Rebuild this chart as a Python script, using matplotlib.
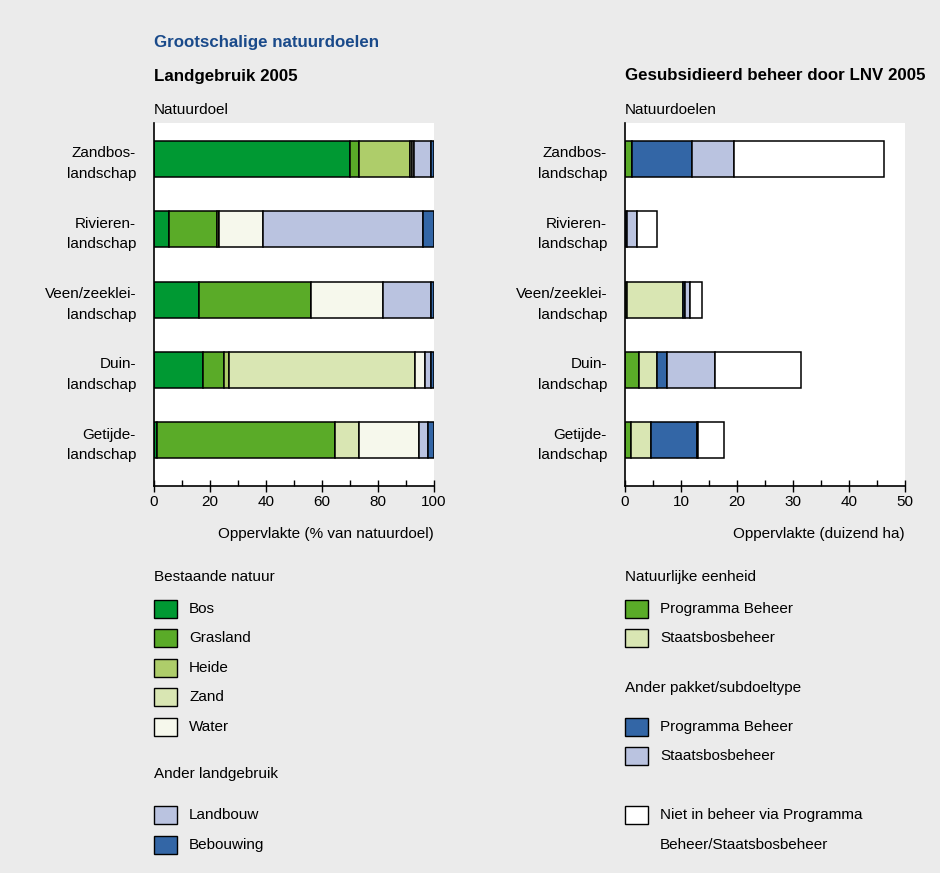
import matplotlib
matplotlib.use("Agg")
import matplotlib.pyplot as plt
from matplotlib.patches import Rectangle
from matplotlib.ticker import MultipleLocator
import numpy as np

plt.rcParams['font.family'] = ['Liberation Sans', 'DejaVu Sans']

# Natuurdoelen (top to bottom)
categories = ["Zandbos-\nlandschap", "Rivieren-\nlandschap", "Veen/zeeklei-\nlandschap",
              "Duin-\nlandschap", "Getijde-\nlandschap"]

# Landgebruik 2005 (% van natuurdoel)
bos = [70.0, 5.2, 15.9, 17.6, 1.0]
grasland = [3.1, 17.2, 40.3, 7.4, 63.5]
heide = [18.3, 0.7, 0.0, 1.9, 0.0]
zand = [0.7, 0.0, 0.0, 66.2, 8.8]
water = [0.8, 15.9, 25.7, 3.6, 21.5]
landbouw = [5.9, 57.0, 16.9, 2.3, 3.1]
bebouwing = [1.2, 4.0, 1.2, 1.0, 2.1]

# Gesubsidieerd beheer door LNV 2005 (duizend ha)
natuur_pb = [1.2, 0.0, 0.3, 2.55, 1.0]
natuur_sbb = [0.0, 0.0, 10.1, 3.2, 3.7]
ander_pb = [10.8, 0.4, 0.4, 1.8, 8.1]
ander_sbb = [7.5, 1.7, 0.8, 8.6, 0.2]
niet_beheer = [26.8, 3.7, 2.1, 15.2, 4.6]

left_series = [("Bos", bos, "#009933"), ("Grasland", grasland, "#5aab28"),
               ("Heide", heide, "#aecd6a"), ("Zand", zand, "#d9e6b3"),
               ("Water", water, "#f6f8ec"), ("Landbouw", landbouw, "#bac3e0"),
               ("Bebouwing", bebouwing, "#3366a6")]
right_series = [("Programma Beheer", natuur_pb, "#5aab28"),
                ("Staatsbosbeheer", natuur_sbb, "#d9e6b3"),
                ("Programma Beheer", ander_pb, "#3366a6"),
                ("Staatsbosbeheer", ander_sbb, "#bac3e0"),
                ("Niet in beheer via Programma\nBeheer/Staatsbosbeheer", niet_beheer, "#ffffff")]

BG = "#ebebeb"
W, H = 940, 873
fig = plt.figure(figsize=(W / 100, H / 100), dpi=100, facecolor=BG)


def px(x0, y0, x1, y1):
    return [x0 / W, 1 - y1 / H, (x1 - x0) / W, (y1 - y0) / H]


fs = 11


def stacked(ax, series, xmax, major, minor):
    y = np.arange(len(categories))
    left = np.zeros(len(categories))
    for name, vals, col in series:
        vals = np.array(vals)
        ax.barh(y, vals, left=left, height=0.51, color=col,
                edgecolor="black", linewidth=1.1)
        left += vals
    ax.set_facecolor("white")
    ax.set_ylim(len(categories) - 0.35, -0.51)
    ax.set_xlim(0, xmax)
    ax.set_yticks(y)
    ax.set_yticklabels(categories, fontsize=fs, linespacing=1.6)
    ax.tick_params(axis="y", length=0, pad=13)
    ax.xaxis.set_major_locator(MultipleLocator(major))
    ax.xaxis.set_minor_locator(MultipleLocator(minor))
    ax.tick_params(axis="x", which="major", direction="inout", length=9,
                   width=1, labelsize=fs, pad=2)
    ax.tick_params(axis="x", which="minor", direction="in", length=4, width=1)
    for s in ["top", "right"]:
        ax.spines[s].set_visible(False)
    for s in ["left", "bottom"]:
        ax.spines[s].set_linewidth(1.2)


ax1 = fig.add_axes(px(154, 123, 434, 486))
stacked(ax1, left_series, 100, 20, 10)
ax2 = fig.add_axes(px(625, 123, 905, 486))
stacked(ax2, right_series, 50, 10, 5)

fig.text(154 / W, 1 - 43 / H, "Grootschalige natuurdoelen", fontsize=12.2,
         fontweight="bold", color="#1a4a8a", va="center")
fig.text(154 / W, 1 - 76 / H, "Landgebruik 2005", fontsize=12.2,
         fontweight="bold", va="center")
fig.text(625 / W, 1 - 76 / H, "Gesubsidieerd beheer door LNV 2005", fontsize=12.2,
         fontweight="bold", va="center")
fig.text(154 / W, 1 - 110 / H, "Natuurdoel", fontsize=fs, va="center")
fig.text(625 / W, 1 - 110 / H, "Natuurdoelen", fontsize=fs, va="center")
fig.text(434 / W, 1 - 534 / H, "Oppervlakte (% van natuurdoel)", fontsize=fs,
         va="center", ha="right")
fig.text(905 / W, 1 - 534 / H, "Oppervlakte (duizend ha)", fontsize=fs,
         va="center", ha="right")


def swatch(x, y, color):
    fig.patches.append(Rectangle((x / W, 1 - (y + 9) / H), 23 / W, 18 / H,
                                 transform=fig.transFigure, facecolor=color,
                                 edgecolor="black", linewidth=1.0))


def legend_item(x, y, label, color):
    swatch(x, y, color)
    fig.text((x + 35) / W, 1 - y / H, label, fontsize=fs, va="center")


fig.text(154 / W, 1 - 577 / H, "Bestaande natuur", fontsize=fs, va="center")
for (name, _, col), yy in zip(left_series[:5], [609, 638, 668, 697, 727]):
    legend_item(154, yy, name, col)
fig.text(154 / W, 1 - 774 / H, "Ander landgebruik", fontsize=fs, va="center")
for (name, _, col), yy in zip(left_series[5:], [815, 845]):
    legend_item(154, yy, name, col)

fig.text(625 / W, 1 - 577 / H, "Natuurlijke eenheid", fontsize=fs, va="center")
for (name, _, col), yy in zip(right_series[:2], [609, 638]):
    legend_item(625, yy, name, col)
fig.text(625 / W, 1 - 688 / H, "Ander pakket/subdoeltype", fontsize=fs, va="center")
for (name, _, col), yy in zip(right_series[2:4], [727, 756]):
    legend_item(625, yy, name, col)
name, _, col = right_series[4]
swatch(625, 815, col)
fig.text(660 / W, 1 - 815 / H, name.split("\n")[0], fontsize=fs, va="center")
fig.text(660 / W, 1 - 845 / H, name.split("\n")[1], fontsize=fs, va="center")

fig.savefig("out.png", dpi=100, facecolor=BG)
